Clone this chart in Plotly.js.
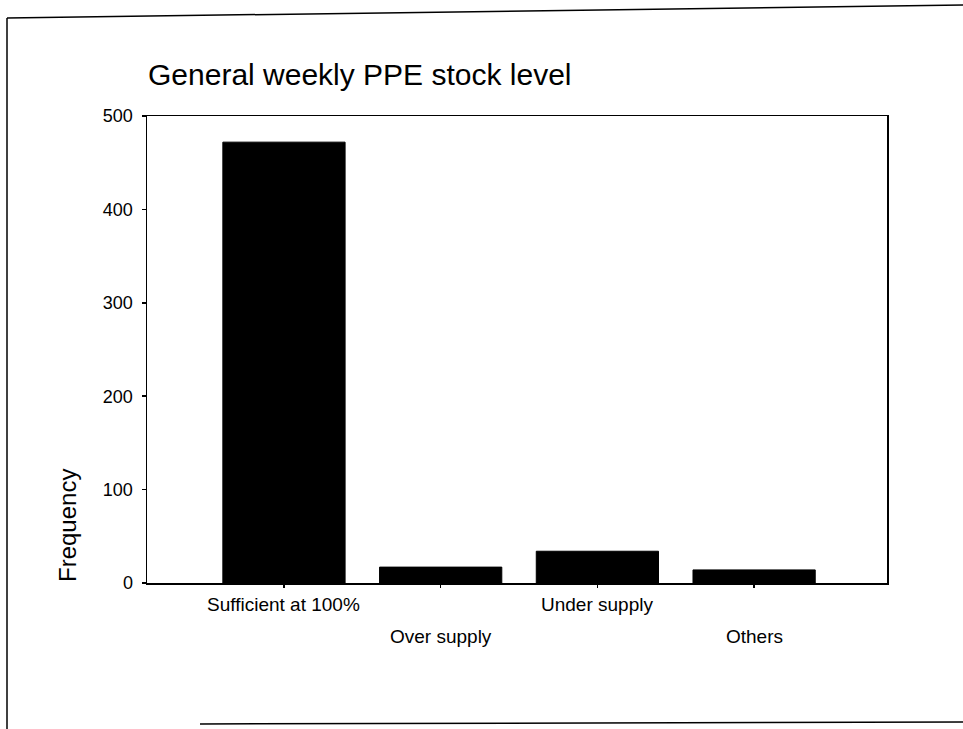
<!DOCTYPE html>
<html>
<head>
<meta charset="utf-8">
<script src="https://cdn.plot.ly/plotly-3.0.1.min.js"></script>
<style>
  html, body { margin: 0; padding: 0; background: #ffffff; }
  #chart { width: 963px; height: 729px; }
</style>
</head>
<body>
<div id="chart"></div>
<script>
// ---- Data ----
const categories = ["Sufficient at 100%", "Over supply", "Under supply", "Others"];
const frequency = [472, 17, 34, 14];
const yTickValues = [0, 100, 200, 300, 400, 500];
const yTickLabels = ["0", "100", "200", "300", "400", "500"];
const chartTitle = "General weekly PPE stock level";
const yAxisLabel = "Frequency";

// ---- Layout helpers (pixel geometry of the page) ----
const W = 963, H = 729;
const M = { l: 147, r: 76, t: 116, b: 146 };
const PW = W - M.l - M.r, PH = H - M.t - M.b;
const px = (x) => (x - M.l) / PW;          // pixel -> paper x
const py = (y) => (H - M.b - y) / PH;      // pixel -> paper y

const FONT = "Liberation Sans, Arial, Helvetica, sans-serif";

const trace = {
  type: "bar",
  x: categories.map((c, i) => i),
  y: frequency,
  width: 0.78,
  marker: { color: "#000000", line: { color: "#000000", width: 1 } },
  hoverinfo: "x+y"
};

// staggered category labels (two rows)
const labelAnnotations = categories.map((c, i) => ({
  xref: "x", yref: "paper",
  x: i, y: 0,
  yanchor: "middle", xanchor: "center",
  yshift: (i % 2 === 0) ? -21 : -53,
  text: c, showarrow: false,
  font: { family: FONT, size: 19, color: "#000000" }
}));

const layout = {
  width: W, height: H,
  margin: M,
  paper_bgcolor: "#ffffff",
  plot_bgcolor: "#ffffff",
  showlegend: false,
  title: {
    text: chartTitle,
    xref: "container", yref: "container",
    x: 148 / W, xanchor: "left",
    y: 1 - 74 / H, yanchor: "middle",
    font: { family: FONT, size: 30, color: "#000000" }
  },
  xaxis: {
    range: [-0.874, 3.848],
    tickvals: categories.map((c, i) => i),
    showticklabels: false,
    ticks: "outside", ticklen: 3, tickcolor: "#000000", tickwidth: 1.5,
    showline: true, linecolor: "#000000", linewidth: 1.5,
    mirror: true,
    showgrid: false, zeroline: false,
    fixedrange: true
  },
  yaxis: {
    range: [0, 500],
    tickvals: yTickValues,
    ticktext: yTickLabels,
    ticks: "outside", ticklen: 4, tickcolor: "#000000", tickwidth: 1.5,
    ticklabelstandoff: 5,
    tickfont: { family: FONT, size: 18, color: "#000000" },
    showline: true, linecolor: "#000000", linewidth: 1.5,
    mirror: true,
    showgrid: false, zeroline: false,
    fixedrange: true
  },
  annotations: labelAnnotations.concat([{
    xref: "paper", yref: "paper",
    x: px(67), y: py(526),
    xanchor: "center", yanchor: "middle",
    textangle: -90,
    text: yAxisLabel, showarrow: false,
    font: { family: FONT, size: 24, color: "#000000" }
  }]),
  shapes: [
    // scanned page frame
    { type: "line", xref: "paper", yref: "paper", x0: px(7), y0: py(18), x1: px(7), y1: py(729), line: { color: "#000000", width: 1.5 } },
    { type: "line", xref: "paper", yref: "paper", x0: px(7), y0: py(18), x1: px(963), y1: py(5), line: { color: "#000000", width: 1.5 } },
    { type: "line", xref: "paper", yref: "paper", x0: px(200), y0: py(724), x1: px(963), y1: py(722), line: { color: "#000000", width: 1.5 } }
  ]
};

Plotly.newPlot("chart", [trace], layout, { displayModeBar: false, staticPlot: true });
</script>
</body>
</html>
